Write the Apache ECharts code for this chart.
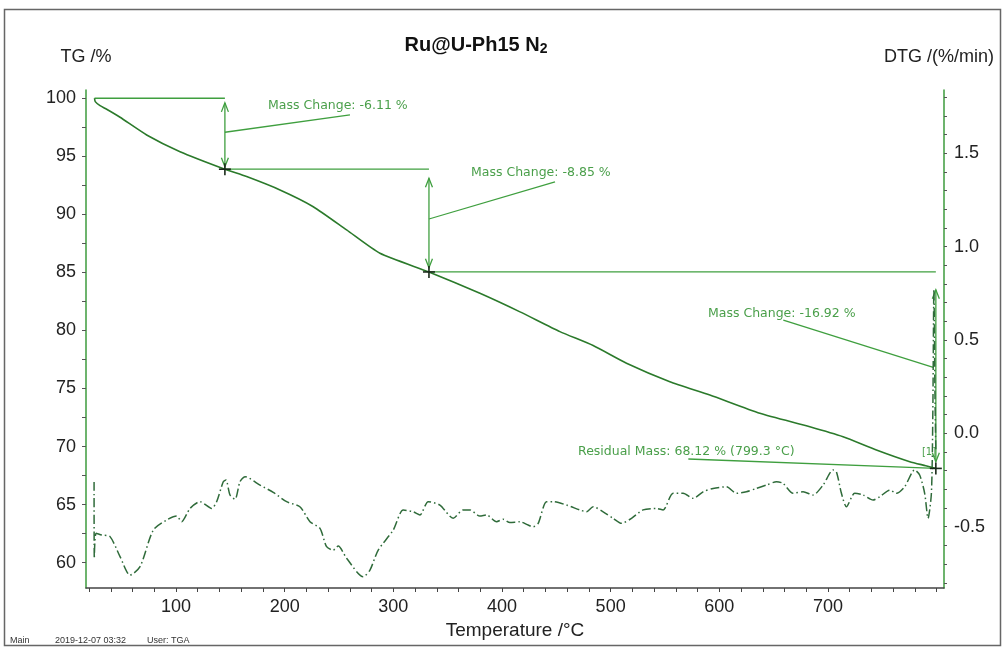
<!DOCTYPE html>
<html><head><meta charset="utf-8">
<script src="https://cdn.jsdelivr.net/npm/echarts@6/dist/echarts.min.js"></script>
<style>html,body{margin:0;padding:0;background:#fff}#c{width:1005px;height:650px}</style>
</head><body><div id="c"></div>
<script>
// ---- data ----
const tgTemp = [25.0, 25.7, 30.1, 36.2, 48.5, 73.0, 103.7, 145.0, 165.0, 195.7, 226.3, 257.0, 287.7, 332.8, 379.7, 416.6, 453.3, 483.9, 514.6, 554.5, 591.3, 637.3, 683.3, 713.9, 744.6, 775.3, 790.0, 799.3];
const tgMass = [100.0, 99.71, 99.36, 99.05, 98.36, 96.84, 95.40, 93.89, 93.25, 92.10, 90.66, 88.66, 86.65, 85.04, 83.20, 81.6, 79.90, 78.70, 77.18, 75.59, 74.44, 72.87, 71.71, 70.85, 69.71, 68.70, 68.35, 68.12];

const dtgTemp = [24.6, 24.8, 26.5, 31.6, 39.3, 48.5, 57.7, 66.9, 79.1, 91.4, 100.6, 105.2, 112.9, 122.1, 132.8, 137.4, 143.5, 146, 149.7, 154.3, 158.9, 163.5, 177.3, 189.5, 201.8, 214, 223.3, 232.5, 238.6, 244.7, 249.3, 257, 272.3, 278.5, 286.1, 299.9, 309.1, 318.3, 324.5, 332.1, 342.9, 355.1, 364.3, 370.5, 379.7, 385.8, 395, 401.1, 407.3, 416.5, 424.1, 428.7, 433.3, 441, 447.1, 459.4, 471.7, 477.8, 483.9, 493.1, 502.3, 510, 519.2, 529.9, 542.2, 548.3, 557.5, 566.7, 575.9, 585.1, 594.3, 606.5, 615.7, 624.9, 634.1, 643.4, 652.6, 658.7, 667.9, 677.1, 686.3, 695.5, 704.7, 707.8, 712.4, 717, 724.6, 732.3, 741.5, 747.7, 756.9, 763, 770.6, 779.8, 784.4, 789, 792.1, 795.2, 796.5, 797.5, 798.5, 799.3];
const dtgRate = [-0.26, -0.67, -0.535, -0.544, -0.553, -0.66, -0.759, -0.714, -0.518, -0.464, -0.443, -0.473, -0.402, -0.366, -0.402, -0.366, -0.259, -0.25, -0.33, -0.353, -0.259, -0.232, -0.277, -0.316, -0.366, -0.393, -0.473, -0.509, -0.607, -0.625, -0.603, -0.669, -0.768, -0.732, -0.625, -0.518, -0.411, -0.42, -0.437, -0.366, -0.384, -0.455, -0.41, -0.41, -0.443, -0.437, -0.473, -0.46, -0.478, -0.473, -0.491, -0.5, -0.482, -0.366, -0.366, -0.384, -0.41, -0.42, -0.393, -0.42, -0.455, -0.482, -0.455, -0.41, -0.402, -0.41, -0.321, -0.321, -0.348, -0.313, -0.295, -0.286, -0.321, -0.313, -0.295, -0.277, -0.259, -0.268, -0.321, -0.313, -0.33, -0.277, -0.196, -0.206, -0.321, -0.393, -0.321, -0.33, -0.357, -0.339, -0.304, -0.321, -0.286, -0.196, -0.223, -0.321, -0.455, -0.321, 0.1, 0.77, 0.2, -0.1];

const xTickValues = [20,40,60,80,100,120,140,160,180,200,220,240,260,280,300,320,340,360,380,400,420,440,460,480,500,520,540,560,580,600,620,640,660,680,700,720,740,760,780,800];
const xLabelValues = [100, 200, 300, 400, 500, 600, 700];
const tgTickValues = [60, 62.5, 65, 67.5, 70, 72.5, 75, 77.5, 80, 82.5, 85, 87.5, 90, 92.5, 95, 97.5, 100];
const tgLabelValues = [60, 65, 70, 75, 80, 85, 90, 95, 100];
const dtgTickValues = [-0.8,-0.7,-0.6,-0.5,-0.4,-0.3,-0.2,-0.1,0,0.1,0.2,0.3,0.4,0.5,0.6,0.7,0.8,0.9,1.0,1.1,1.2,1.3,1.4,1.5,1.6,1.7,1.8];
const dtgLabelValues = [-0.5, 0, 0.5, 1.0, 1.5];

// steps of the mass-change evaluation
const stepTemp = [25, 145, 332.8, 799.3];
const stepMass = [100, 93.89, 85.04, 68.12];
const massChangeText = ['Mass Change: -6.11 %', 'Mass Change: -8.85 %', 'Mass Change: -16.92 %'];
const residualText = 'Residual Mass: 68.12 % (799.3 °C)';

// annotation anchors (data units: °C, %)
const arrowTop = [99.6, 93.1, 83.5];
const arrowBottom = [94.1, 85.4, 68.7];
const leaderStart = [[145, 97.07], [332.8, 89.6], [796.9, 76.83]];
const leaderEnd = [[260.1, 98.56], [448.8, 92.79], [658.9, 80.9]];
const labelAnchor = [[184.7, 99.34], [371.5, 93.57], [589.6, 81.42]];
const residualAnchor = [470.0, 69.52];
const residualLeaderStart = [571.5, 68.93];
const markerText = '[1]';
const markerAnchor = [786.5, 69.47];

// ---- build ----
const tgData = tgTemp.map((t, i) => [t, tgMass[i]]);
const dtgData = dtgTemp.map((t, i) => [t, dtgRate[i]]);

const segs = [];
for (let i = 0; i < 3; i++) {
  segs.push([stepTemp[i], stepMass[i], stepTemp[i + 1], stepMass[i], 0]);
  segs.push([stepTemp[i + 1], arrowTop[i], stepTemp[i + 1], arrowBottom[i], 1]);
  segs.push([leaderStart[i][0], leaderStart[i][1], leaderEnd[i][0], leaderEnd[i][1], 0]);
}
segs.push([residualLeaderStart[0], residualLeaderStart[1], stepTemp[3], stepMass[3], 0]);

const annTexts = massChangeText.concat([residualText, markerText]);
const annTextPos = labelAnchor.concat([residualAnchor, markerAnchor]);
const crossData = stepTemp.slice(1).map((t, i) => [t, stepMass[i + 1]]);

const annColor = '#3f9f3f';
const axisFont = 'Liberation Sans, Arial, sans-serif';

const chart = echarts.init(document.getElementById('c'), null, {renderer: 'canvas'});
chart.setOption({
  animation: false,
  backgroundColor: '#fff',
  grid: {left: 86, right: 61, top: 90, bottom: 62},
  xAxis: {
    type: 'value', min: 17.17, max: 806.8,
    name: 'Temperature /°C', nameLocation: 'middle', nameGap: 31,
    nameTextStyle: {fontSize: 19, color: '#222', fontFamily: axisFont},
    axisLine: {onZero: false, lineStyle: {color: '#444', width: 1.5}},
    axisTick: {customValues: xTickValues, length: 4, lineStyle: {color: '#444'}},
    axisLabel: {customValues: xLabelValues, fontSize: 18, color: '#222', margin: 10, fontFamily: axisFont},
    splitLine: {show: false}
  },
  yAxis: [{
    type: 'value', min: 57.82, max: 100.71, position: 'left',
    name: 'TG /%', nameLocation: 'end', nameGap: 24,
    nameTextStyle: {fontSize: 18, color: '#222', fontFamily: axisFont},
    axisLine: {show: true, onZero: false, lineStyle: {color: '#3c9b3c', width: 1.5}},
    axisTick: {show: true, customValues: tgTickValues, length: 4, lineStyle: {color: '#555'}},
    axisLabel: {customValues: tgLabelValues, fontSize: 18, color: '#222', margin: 10, fontFamily: axisFont},
    splitLine: {show: false}
  }, {
    type: 'value', min: -0.828, max: 1.838, position: 'right',
    name: 'DTG /(%/min)', nameLocation: 'end', nameGap: 24,
    nameTextStyle: {fontSize: 18, color: '#222', fontFamily: axisFont, align: 'center', padding: [0, 0, 0, -10]},
    axisLine: {show: true, onZero: false, lineStyle: {color: '#3c9b3c', width: 1.5}},
    axisTick: {show: true, customValues: dtgTickValues, length: 3, lineStyle: {color: '#555'}},
    axisLabel: {customValues: dtgLabelValues, fontSize: 18, color: '#222', margin: 10, fontFamily: axisFont,
      formatter: v => v.toFixed(1)},
    splitLine: {show: false}
  }],
  graphic: [
    {type: 'rect', shape: {x: 4.5, y: 9.5, width: 996, height: 636}, style: {fill: 'none', stroke: '#666', lineWidth: 1.5}, silent: true},
    {type: 'text', x: 476, y: 45, style: {text: 'Ru@U-Ph15 N{s|2}', fill: '#111', font: 'bold 20px Liberation Sans, Arial, sans-serif', align: 'center', verticalAlign: 'middle',
      rich: {s: {fontSize: 14, fontWeight: 'bold', fontFamily: axisFont, padding: [9, 0, 0, 0], fill: '#111'}}}},
    {type: 'text', x: 10, y: 641, style: {text: 'Main', fill: '#333', font: '9px Liberation Sans, Arial, sans-serif', verticalAlign: 'middle'}},
    {type: 'text', x: 55, y: 641, style: {text: '2019-12-07 03:32', fill: '#333', font: '9px Liberation Sans, Arial, sans-serif', verticalAlign: 'middle'}},
    {type: 'text', x: 147, y: 641, style: {text: 'User: TGA', fill: '#333', font: '9px Liberation Sans, Arial, sans-serif', verticalAlign: 'middle'}}
  ],
  series: [
    {
      type: 'custom', name: 'annotation', xAxisIndex: 0, yAxisIndex: 0, z: 3, silent: true,
      data: segs,
      renderItem: (params, api) => {
        const p1 = api.coord([api.value(0), api.value(1)]);
        const p2 = api.coord([api.value(2), api.value(3)]);
        const st = {stroke: annColor, lineWidth: 1.3, fill: 'none'};
        const children = [{type: 'line', shape: {x1: p1[0], y1: p1[1], x2: p2[0], y2: p2[1]}, style: st}];
        if (api.value(4) === 1) {
          const w = 3.5, h = 9;
          children.push({type: 'polyline', shape: {points: [[p1[0] - w, p1[1] + h], [p1[0], p1[1]], [p1[0] + w, p1[1] + h]]}, style: st});
          children.push({type: 'polyline', shape: {points: [[p2[0] - w, p2[1] - h], [p2[0], p2[1]], [p2[0] + w, p2[1] - h]]}, style: st});
        }
        return {type: 'group', children};
      }
    },
    {
      type: 'custom', name: 'labels', xAxisIndex: 0, yAxisIndex: 0, z: 4, silent: true,
      data: annTextPos,
      renderItem: (params, api) => {
        const p = api.coord([api.value(0), api.value(1)]);
        const isMarker = params.dataIndex === annTexts.length - 1;
        return {type: 'text', x: p[0], y: p[1], style: {text: annTexts[params.dataIndex], fill: '#4a9f4a',
          font: (isMarker ? '10px' : '12.5px') + ' DejaVu Sans, sans-serif', align: 'left', verticalAlign: 'middle'}};
      }
    },
    {
      type: 'custom', name: 'markers', xAxisIndex: 0, yAxisIndex: 0, z: 6, silent: true,
      data: crossData,
      renderItem: (params, api) => {
        const p = api.coord([api.value(0), api.value(1)]);
        const st = {stroke: '#1a2a1a', lineWidth: 1.6};
        return {type: 'group', children: [
          {type: 'line', shape: {x1: p[0] - 6, y1: p[1], x2: p[0] + 6, y2: p[1]}, style: st},
          {type: 'line', shape: {x1: p[0], y1: p[1] - 6, x2: p[0], y2: p[1] + 6}, style: st}
        ]};
      }
    },
    {
      type: 'line', name: 'TG', xAxisIndex: 0, yAxisIndex: 0, z: 5,
      data: tgData, showSymbol: false, smooth: 0.2,
      lineStyle: {color: '#2b7a2b', width: 1.6}
    },
    {
      type: 'line', name: 'DTG', xAxisIndex: 0, yAxisIndex: 1, z: 4,
      data: dtgData, showSymbol: false, smooth: 0.25,
      lineStyle: {color: '#2f6b3a', width: 1.5, type: [9, 3, 1.5, 3]}
    }
  ]
});
</script>
</body></html>
